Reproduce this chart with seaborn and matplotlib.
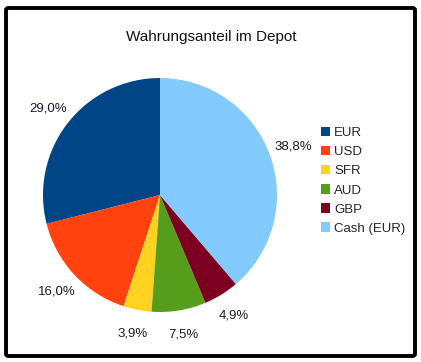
import matplotlib
matplotlib.use("Agg")
import matplotlib.pyplot as plt
import seaborn as sns
from matplotlib.patches import FancyBboxPatch, Patch

sns.set_theme(style="white")
plt.rcParams['font.family'] = ['Liberation Sans', 'DejaVu Sans']

title = "Wahrungsanteil im Depot"
categories = ["EUR", "USD", "SFR", "AUD", "GBP", "Cash (EUR)"]
values = [29.0, 16.0, 3.9, 7.5, 4.9, 38.8]
value_labels = ["29,0%", "16,0%", "3,9%", "7,5%", "4,9%", "38,8%"]
colors = ["#004586", "#ff420e", "#ffd320", "#579d1c", "#7e0021", "#83caff"]

W, H = 421, 362
fig = plt.figure(figsize=(W / 100, H / 100), dpi=100)
fig.patch.set_facecolor("white")

cx, cy, r = 160, H - 195, 117
ax = fig.add_axes([(cx - r) / W, (cy - r) / H, 2 * r / W, 2 * r / H])

lab_iter = iter(value_labels)
wedges, texts, autotexts = ax.pie(
    values, colors=colors, startangle=90, counterclock=True,
    autopct=lambda p: next(lab_iter), pctdistance=1.21,
    wedgeprops=dict(linewidth=0),
    textprops=dict(fontsize=9.5, color="#1a1a2e"))
ax.set_xlim(-1, 1)
ax.set_ylim(-1, 1)
ax.set_aspect("equal")
ax.axis("off")

fig.text(211 / W, 1 - 37 / H, title, ha="center", va="center", fontsize=11, color="#111111")

handles = [Patch(facecolor=c, edgecolor="none") for c in colors]
fig.legend(handles, categories, loc="upper left", bbox_to_anchor=(321 / W, 1 - 127 / H),
           frameon=False, fontsize=9.5, handlelength=0.7, handleheight=0.7,
           handletextpad=0.3, labelspacing=0.52, borderpad=0, borderaxespad=0)

border = FancyBboxPatch((6 / W, 6 / H), (W - 12) / W, (H - 14) / H,
                        boxstyle="round,pad=0,rounding_size=0.006",
                        transform=fig.transFigure, facecolor="none",
                        edgecolor="black", linewidth=2.8)
fig.patches.append(border)

fig.savefig("out.png", dpi=100)
